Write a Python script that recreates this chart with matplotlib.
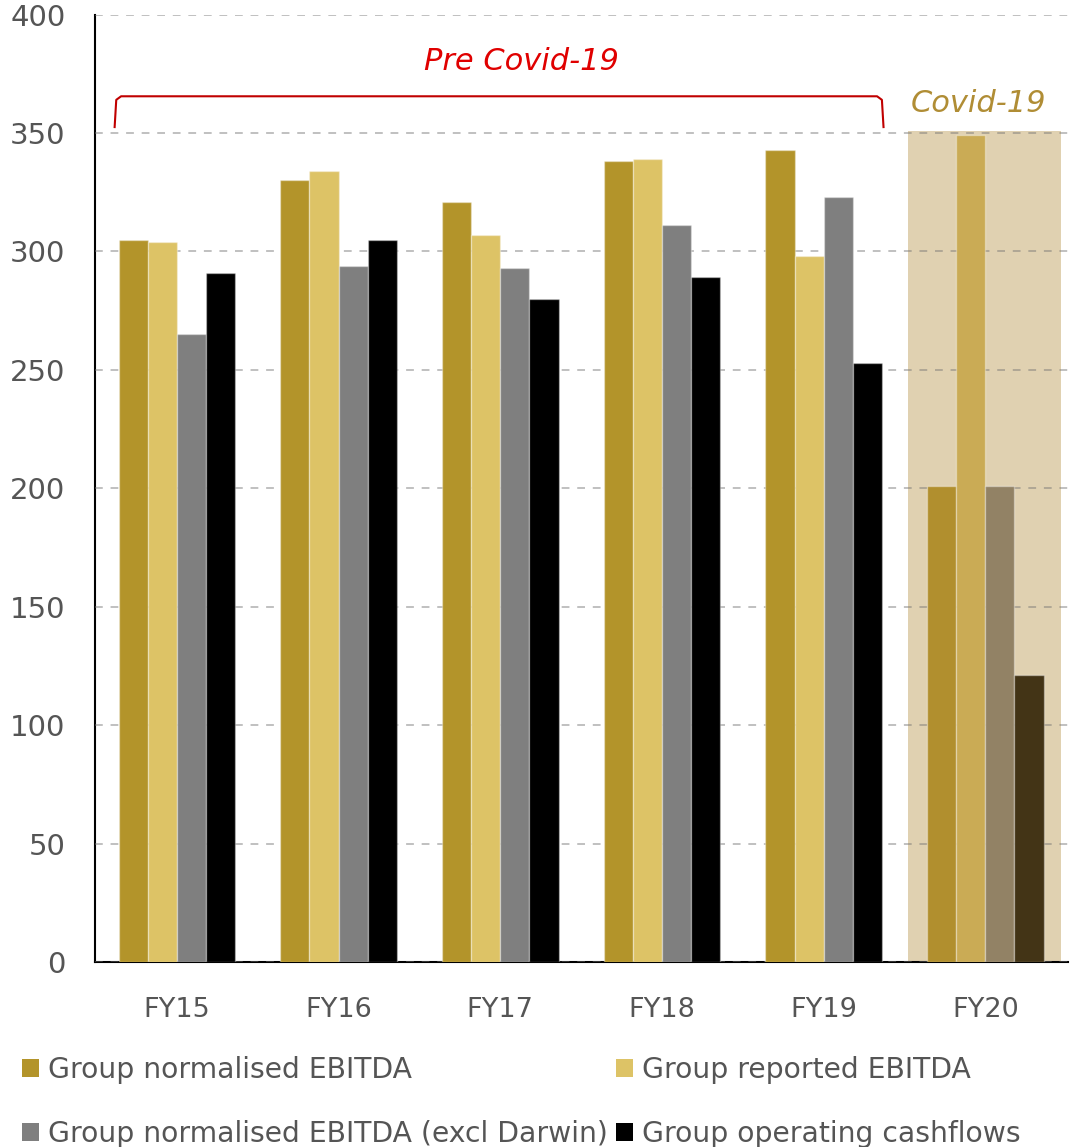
import numpy as np
import matplotlib
matplotlib.use("Agg")
import matplotlib.pyplot as plt
from matplotlib.patches import Patch, Rectangle

plt.rcParams["font.family"] = ["DejaVu Sans"]

years = ["FY15", "FY16", "FY17", "FY18", "FY19", "FY20"]
norm_ebitda = [305, 330, 321, 338, 343, 201]
rep_ebitda = [304, 334, 307, 339, 298, 349]
norm_ex_darwin = [265, 294, 293, 311, 323, 201]
op_cashflows = [291, 305, 280, 289, 253, 121]

series_names = ["Group normalised EBITDA", "Group reported EBITDA",
                "Group normalised EBITDA (excl Darwin)", "Group operating cashflows"]
colors = ["#B3942A", "#DDC366", "#7F7F7F", "#000000"]
# FY20 bars are drawn in muted tones on the Covid band
covid_colors = ["#B18F2E", "#CAAB55", "#928265", "#433416"]

TEXT = "#555555"

fig = plt.figure(figsize=(10.7, 11.47), dpi=100)
ax = fig.add_axes([0.089, 0.1613, 0.909, 0.826])

x = np.arange(len(years))
w = 0.18
all_series = [norm_ebitda, rep_ebitda, norm_ex_darwin, op_cashflows]
for i, vals in enumerate(all_series):
    offs = (i - 1.5) * w
    cols = [colors[i]] * (len(years) - 1) + [covid_colors[i]]
    ax.bar(x + offs, vals, width=w, color=cols, edgecolor=(1, 1, 1, 0.35),
           linewidth=1, zorder=3)

# Covid-19 shaded band behind FY20
ax.add_patch(Rectangle((x[-1] - 0.48, 0), 0.95, 351, facecolor="#E0D1B1",
                       edgecolor="none", zorder=1))

ax.set_xlim(-0.505, 5.51)
ax.set_ylim(0, 400)
ax.set_yticks(range(0, 401, 50))
ax.set_xticks(x)
ax.set_xticklabels(years)
ax.tick_params(axis="both", length=0, labelcolor=TEXT)
ax.tick_params(axis="x", pad=25, labelsize=19.5)
ax.tick_params(axis="y", pad=21.5, labelsize=21)
ax.yaxis.grid(True, color=(0.45, 0.45, 0.45), alpha=0.45, lw=1.4,
              ls=(0, (4, 4)), zorder=2)
ax.set_axisbelow(False)
for s in ["top", "right"]:
    ax.spines[s].set_visible(False)
ax.spines["left"].set_color("black")
ax.spines["bottom"].set_color("black")
ax.spines["left"].set_linewidth(1.5)
ax.spines["bottom"].set_linewidth(1.5)

# Pre Covid-19 bracket over FY15-FY19
bl, br = x[0] - 0.385, x[4] + 0.37
top, foot = 365.5, 352.5
ax.plot([bl, bl + 0.01, bl + 0.04, br - 0.04, br - 0.01, br],
        [foot, top - 1.5, top, top, top - 1.5, foot],
        color="#C00000", lw=1.5, zorder=4, clip_on=False)
ax.text(2.13, 380, "Pre Covid-19", color="#E00000", fontsize=22,
        style="italic", ha="center", va="center")
ax.text(x[-1] - 0.04, 362.5, "Covid-19", color="#B08D35", fontsize=22,
        style="italic", ha="center", va="center")

handles = [Patch(facecolor=c, edgecolor="none") for c in colors]
order = [0, 2, 1, 3]
fig.legend([handles[i] for i in order], [series_names[i] for i in order],
           loc="upper left", bbox_to_anchor=(0.021, 0.079), ncol=2,
           frameon=False, fontsize=20.3, labelcolor=TEXT, handlelength=0.6,
           handleheight=0.6, handletextpad=0.3, columnspacing=0.3,
           labelspacing=1.25, borderaxespad=0, borderpad=0)

fig.savefig("out.png", dpi=100)
